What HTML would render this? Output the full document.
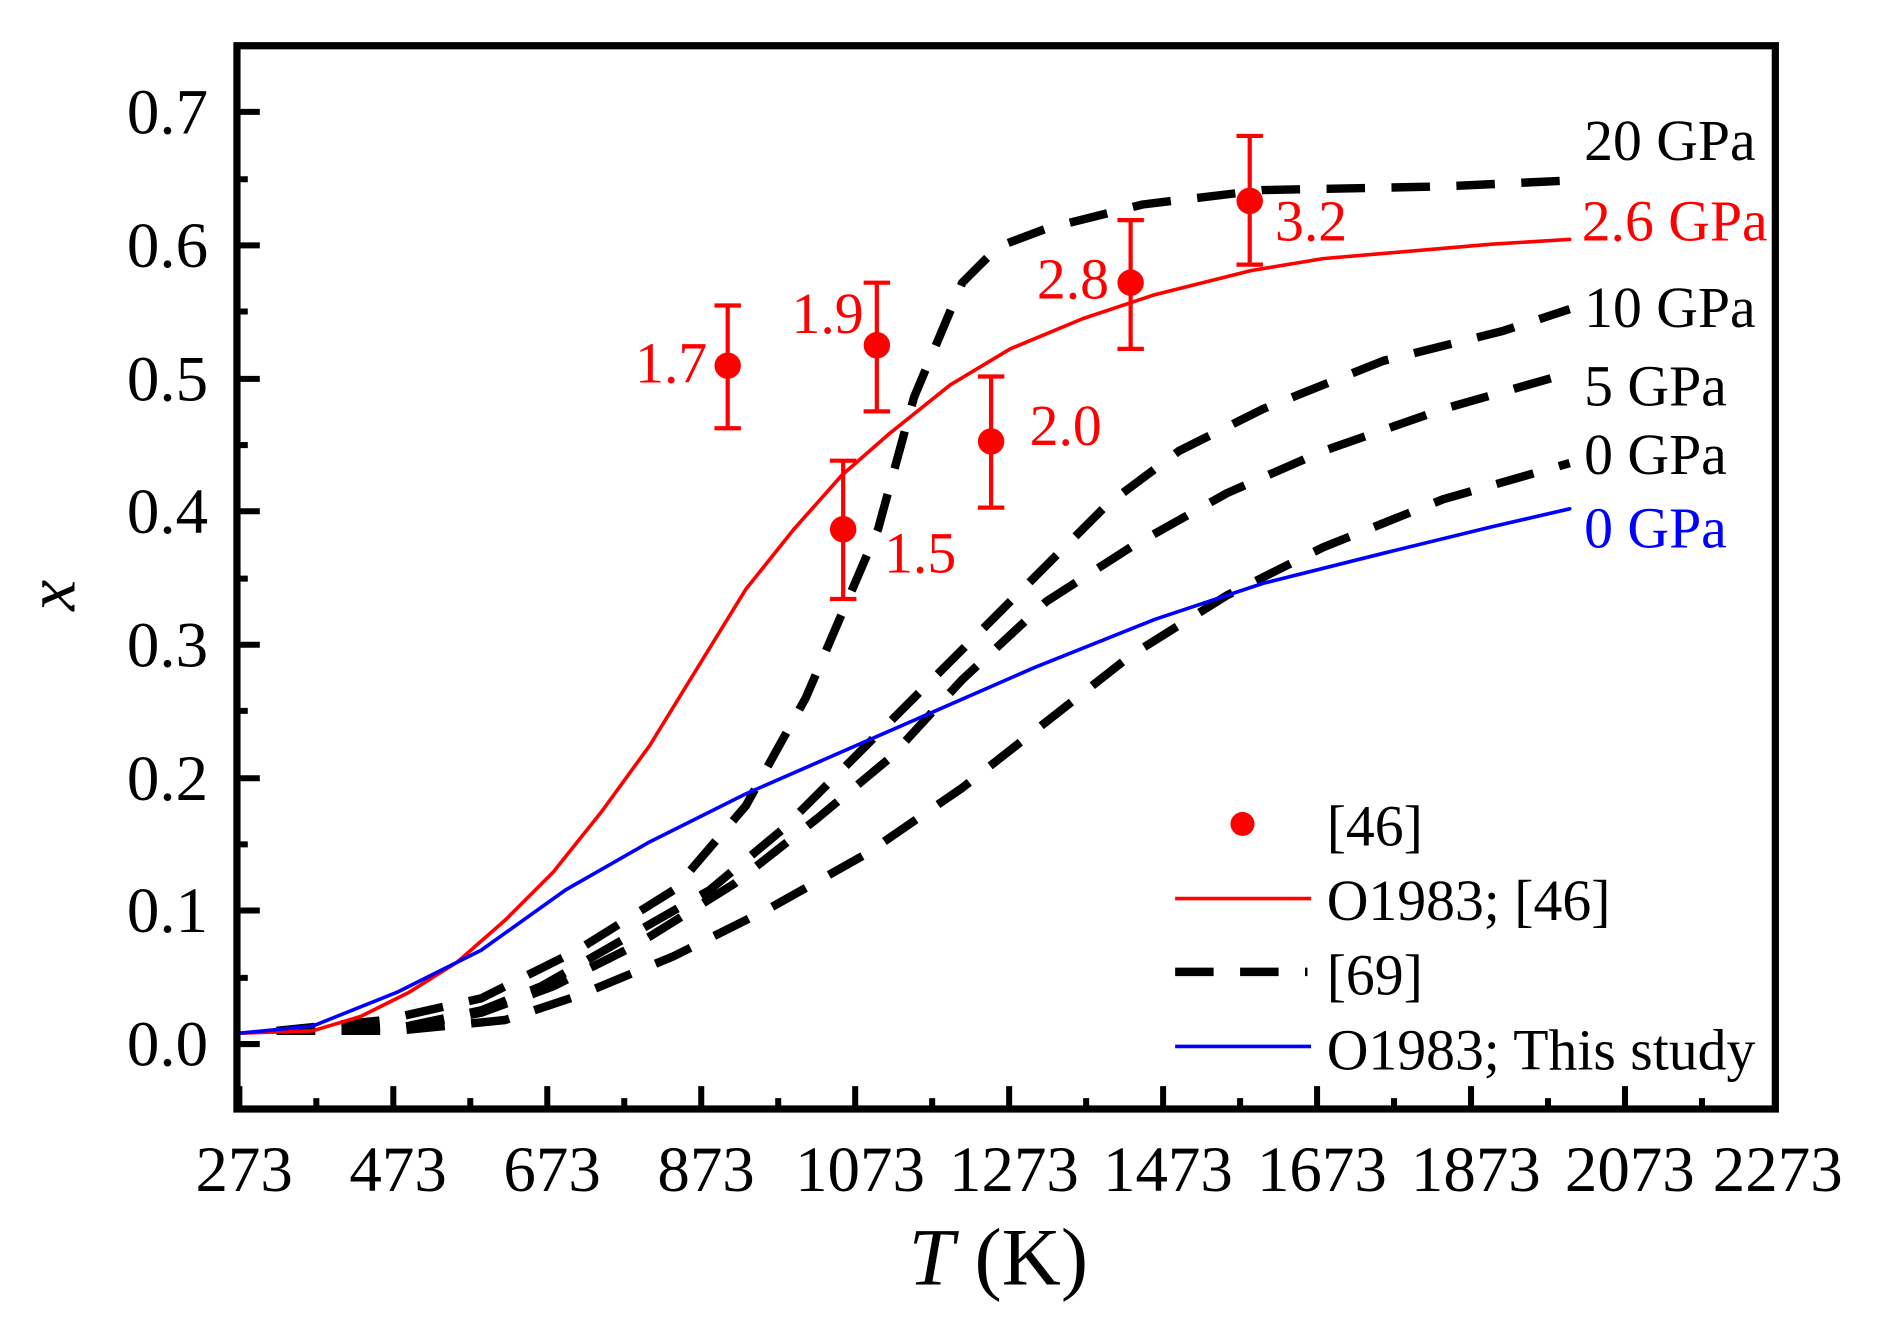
<!DOCTYPE html>
<html><head><meta charset="utf-8"><style>html,body{margin:0;padding:0;background:#fff}svg{display:block}</style></head><body>
<svg width="1886" height="1336" viewBox="0 0 1568 1110.7" xmlns="http://www.w3.org/2000/svg" font-family="Liberation Serif, serif">
<rect x="0" y="0" width="1568" height="1111" fill="#fff"/>
<g fill="none" stroke-linejoin="round" stroke-linecap="round">
<g stroke="#000" stroke-width="7" stroke-dasharray="32 22" stroke-linecap="butt">
<polyline points="230,857 320,848 400,830 480,790 560,740 620,670 670,580 700,510 730,440 760,330 800,235 830,205 870,190 950,170 1050,158 1200,155 1305,150"/>
<polyline points="230,857 330,855 400,840 450,820 520,780 590,740 650,690 720,620 790,550 860,480 920,420 980,375 1050,340 1150,300 1250,275 1305,257"/>
<polyline points="230,857 330,855 400,842 460,820 530,785 610,735 680,680 740,630 800,565 870,500 940,455 1020,410 1100,375 1200,340 1305,310"/>
<polyline points="230,857 330,857 420,848 480,828 560,795 640,755 720,710 800,655 870,600 940,545 1020,495 1100,455 1200,415 1305,385"/>
</g>
<polyline stroke="#ff0000" stroke-width="3" points="199,859 260,857 300,845 340,825 380,800 420,765 460,725 500,675 540,620 580,555 620,490 660,440 700,395 740,360 790,320 840,290 900,265 960,245 1040,225 1100,215 1240,203 1305,199"/>
<polyline stroke="#0000ff" stroke-width="3" points="199,859 260,853 330,825 400,790 470,740 540,700 620,660 700,625 780,590 860,555 960,515 1050,485 1150,460 1240,438 1305,423"/>
</g>
<g stroke="#ff0000" stroke-width="3.5" fill="#ff0000">
<path d="M605,254V356M594,254H616M594,356H616 M701,383V498M690,383H712M690,498H712 M729,235V342M718,235H740M718,342H740 M824,313V422M813,313H835M813,422H835 M940,183V290M929,183H951M929,290H951 M1039,113V220M1028,113H1050M1028,220H1050"/>
<g stroke="none"><circle cx="605" cy="304" r="11"/><circle cx="701" cy="440" r="11"/><circle cx="729" cy="287" r="11"/><circle cx="824" cy="367" r="11"/><circle cx="940" cy="235" r="11"/><circle cx="1039" cy="167" r="11"/></g>
</g>
<g fill="#ff0000" font-size="48">
<text x="588" y="318" text-anchor="end">1.7</text>
<text x="735" y="476">1.5</text>
<text x="718" y="277" text-anchor="end">1.9</text>
<text x="856" y="370">2.0</text>
<text x="922" y="248" text-anchor="end">2.8</text>
<text x="1060" y="200">3.2</text>
<text x="1315" y="200">2.6 GPa</text>
</g>
<g font-size="48" fill="#000">
<text x="1317" y="133">20 GPa</text>
<text x="1317" y="272">10 GPa</text>
<text x="1317" y="337">5 GPa</text>
<text x="1317" y="394">0 GPa</text>
<text x="1317" y="455" fill="#0000ff">0 GPa</text>
</g>
<circle cx="1033" cy="685" r="10" fill="#ff0000"/>
<line x1="977" y1="747" x2="1090" y2="747" stroke="#ff0000" stroke-width="3"/>
<line x1="977" y1="808" x2="1087" y2="808" stroke="#000" stroke-width="7" stroke-dasharray="32 22"/>
<line x1="977" y1="870" x2="1090" y2="870" stroke="#0000ff" stroke-width="3"/>
<g font-size="48" fill="#000">
<text x="1103" y="703">[46]</text>
<text x="1103" y="765">O1983; [46]</text>
<text x="1103" y="827">[69]</text>
<text x="1103" y="889">O1983; This study</text>
</g>
<rect x="197" y="38" width="1279" height="884" fill="none" stroke="#000" stroke-width="6"/>
<g stroke="#000" stroke-width="5">
<path d="M199,922v-19M263,922v-9M327,922v-19M391,922v-9M455,922v-19M519,922v-9M583,922v-19M647,922v-9M711,922v-19M775,922v-9M839,922v-19M903,922v-9M967,922v-19M1031,922v-9M1095,922v-19M1159,922v-9M1223,922v-19M1287,922v-9M1351,922v-19M1415,922v-9"/>
<path d="M197,868h19M197,813h9M197,757h19M197,702h9M197,647h19M197,591h9M197,536h19M197,481h9M197,425h19M197,370h9M197,315h19M197,259h9M197,204h19M197,149h9M197,93h19"/>
</g>
<g font-size="54" fill="#000" text-anchor="end">
<text x="173" y="886">0.0</text><text x="173" y="775">0.1</text><text x="173" y="665">0.2</text><text x="173" y="554">0.3</text><text x="173" y="443">0.4</text><text x="173" y="333">0.5</text><text x="173" y="222">0.6</text><text x="173" y="111">0.7</text>
</g>
<g font-size="54" fill="#000" text-anchor="middle">
<text x="203" y="990">273</text><text x="331" y="990">473</text><text x="459" y="990">673</text><text x="587" y="990">873</text><text x="715" y="990">1073</text><text x="843" y="990">1273</text><text x="971" y="990">1473</text><text x="1099" y="990">1673</text><text x="1227" y="990">1873</text><text x="1355" y="990">2073</text><text x="1478" y="990">2273</text>
</g>
<text x="830" y="1068" font-size="68" text-anchor="middle"><tspan font-style="italic">T</tspan> (K)</text>
<text transform="translate(62,495) rotate(-90)" font-size="58" font-style="italic" text-anchor="middle">x</text>
</svg>
</body></html>
